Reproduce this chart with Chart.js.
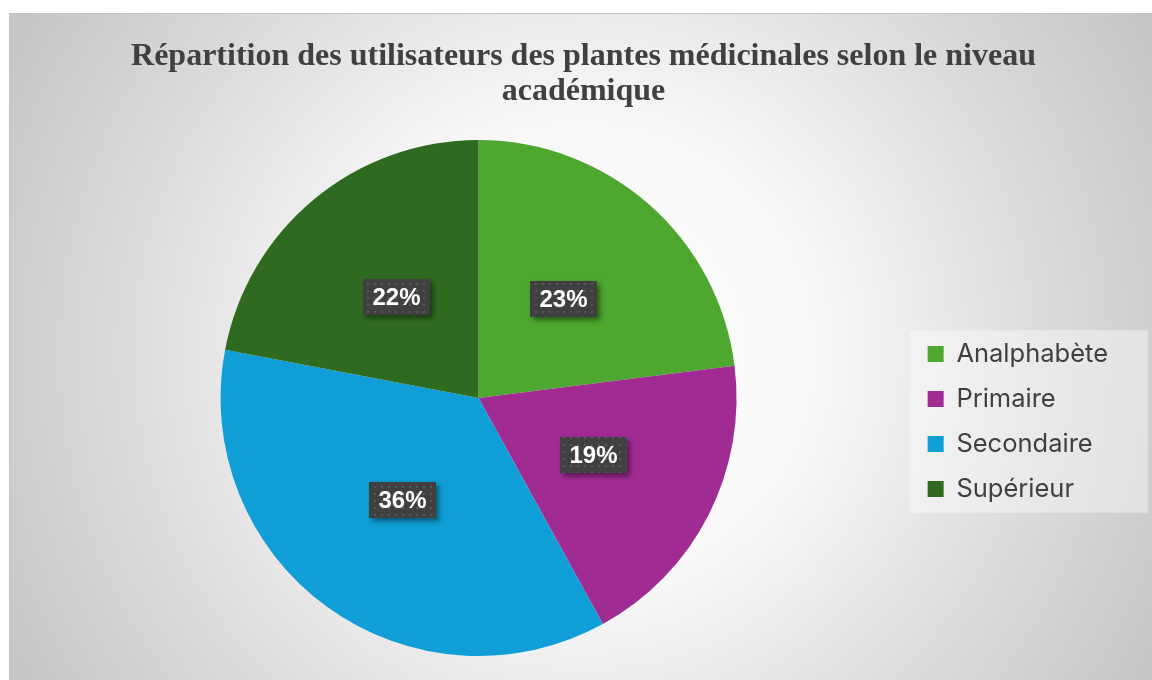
<!DOCTYPE html>
<html>
<head>
<meta charset="utf-8">
<script src="https://cdn.jsdelivr.net/npm/chart.js@4.4.1/dist/chart.umd.min.js"></script>
<style>
  html, body { margin: 0; padding: 0; background: #ffffff; width: 1152px; height: 680px; overflow: hidden; }
  #frame {
    position: absolute; left: 9px; top: 13px; width: 1150px; height: 680px;
    border: 1px solid #c2c2c2; box-sizing: border-box;
    background: radial-gradient(circle farthest-corner at 50% 50%, #ffffff 0%, #f8f8f8 35%, #dcdcdc 68%, #c4c4c4 100%);
  }
  #chart { position: absolute; left: 0; top: 0; }
</style>
</head>
<body>
<div id="frame"></div>
<canvas id="chart" width="1152" height="680"></canvas>
<script>
// Data
const titleLines = ["Répartition des utilisateurs des plantes médicinales selon le niveau", "académique"];
const levels = ["Analphabète", "Primaire", "Secondaire", "Supérieur"];
const shares = [23, 19, 36, 22];
const sliceColors = ["#4ea72e", "#a02b93", "#0f9ed5", "#2e6a1f"];

// small dotted fill used behind the data labels
function dotPattern(ctx) {
  const c = document.createElement("canvas");
  c.width = 7; c.height = 7;
  const p = c.getContext("2d");
  p.fillStyle = "#404040";
  p.fillRect(0, 0, 7, 7);
  p.fillStyle = "#575757";
  p.fillRect(3, 3, 2, 2);
  return ctx.createPattern(c, "repeat");
}

const legendPanel = {
  id: "legendPanel",
  beforeDraw(chart) {
    const lg = chart.legend;
    if (!lg || !lg.legendHitBoxes.length) return;
    const boxes = lg.legendHitBoxes;
    const first = boxes[0], last = boxes[boxes.length - 1];
    const ctx = chart.ctx;
    ctx.save();
    ctx.fillStyle = "rgba(255,255,255,0.4)";
    const x0 = first.left - 18, y0 = first.top - 11;
    ctx.fillRect(x0, y0, 1148 - x0, last.top + last.height + 11 - y0);
    ctx.restore();
  }
};

const pctLabels = {
  id: "pctLabels",
  afterDatasetsDraw(chart) {
    const ctx = chart.ctx;
    const meta = chart.getDatasetMeta(0);
    const fill = dotPattern(ctx);
    ctx.save();
    meta.data.forEach((arc, i) => {
      const pos = arc.tooltipPosition();
      const w = 67, h = 36;
      const x = Math.round(pos.x - w / 2), y = Math.round(pos.y - h / 2 - 2);
      ctx.save();
      ctx.shadowColor = "rgba(0,0,0,0.45)";
      ctx.shadowBlur = 5;
      ctx.shadowOffsetX = 3;
      ctx.shadowOffsetY = 3;
      ctx.fillStyle = "#404040";
      ctx.fillRect(x, y, w, h);
      ctx.restore();
      ctx.fillStyle = fill;
      ctx.fillRect(x, y, w, h);
      ctx.fillStyle = "#ffffff";
      ctx.font = "bold 24px 'Liberation Sans', Arial, sans-serif";
      ctx.textAlign = "center";
      ctx.textBaseline = "middle";
      ctx.fillText(shares[i] + "%", x + w / 2, y + h / 2 + 1);
    });
    ctx.restore();
  }
};

new Chart(document.getElementById("chart"), {
  type: "pie",
  data: {
    labels: levels,
    datasets: [{
      data: shares,
      backgroundColor: sliceColors,
      borderWidth: 0
    }]
  },
  options: {
    responsive: false,
    animation: false,
    devicePixelRatio: 1,
    layout: { padding: { top: 14, bottom: 24, left: 49, right: 34 } },
    plugins: {
      title: {
        display: true,
        text: titleLines,
        color: "#404040",
        font: { family: "'Liberation Serif', 'Times New Roman', serif", size: 32, weight: "bold", lineHeight: 1.094 },
        padding: { top: 25, bottom: 31 }
      },
      legend: {
        position: "right",
        fullSize: false,
        title: { display: true, text: " ", font: { size: 10, lineHeight: 1.2 }, padding: { top: 35, bottom: 0 } },
        labels: {
          boxWidth: 16,
          boxHeight: 16,
          padding: 19.5,
          color: "#404040",
          font: { family: "Inter, 'Open Sans', sans-serif", size: 25.5 }
        }
      },
      tooltip: { enabled: false }
    }
  },
  plugins: [legendPanel, pctLabels]
});
</script>
</body>
</html>
